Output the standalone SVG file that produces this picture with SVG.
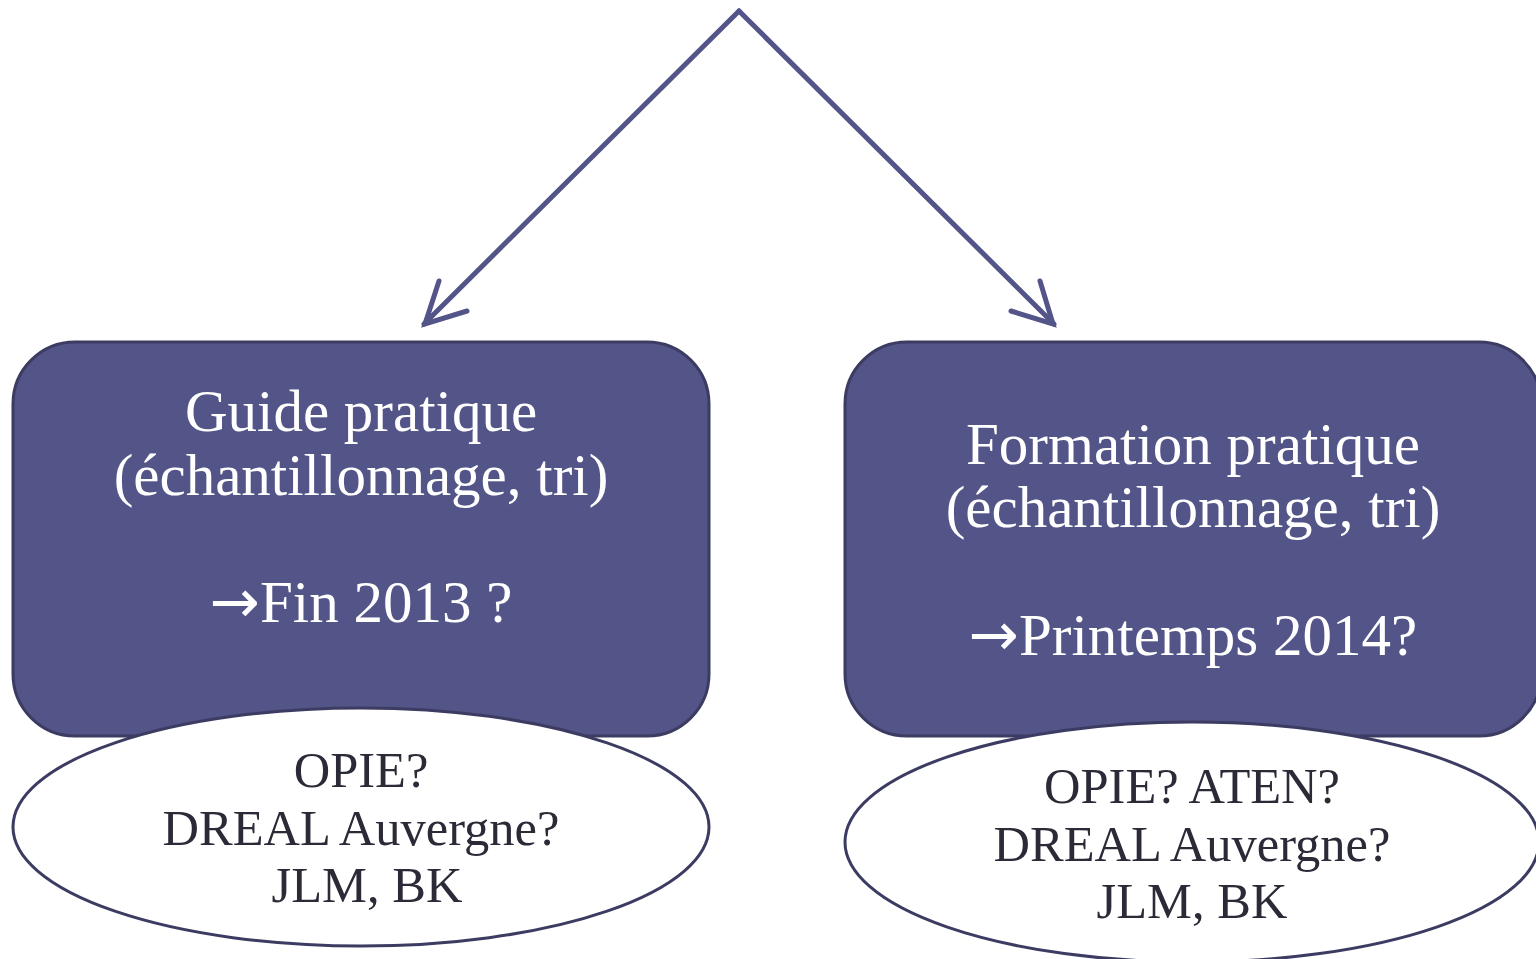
<svg xmlns="http://www.w3.org/2000/svg" width="1536" height="959" viewBox="0 0 1536 959">
<defs>
<style>
.box{fill:#535488;stroke:#3c3c63;stroke-width:3}
.ell{fill:#ffffff;stroke:#3c3c63;stroke-width:3}
.wt{font-family:"Liberation Serif","DejaVu Serif",serif;font-size:59px;fill:#ffffff;text-anchor:middle}
.dk{font-family:"Liberation Serif","DejaVu Serif",serif;font-size:50.5px;fill:#2b2b38;text-anchor:middle}
.arr{font-family:"DejaVu Sans",sans-serif;font-size:60px}
.conn{fill:none;stroke:#535488;stroke-width:5;stroke-linecap:round;stroke-linejoin:miter}
</style>
</defs>
<rect width="1536" height="959" fill="#ffffff"/>
<g id="connectors">
<path class="conn" d="M739 11 L424 324"/>
<path class="conn" d="M439 281 L425 324 L467 311"/>
<path class="conn" d="M739 11 L1054 324"/>
<path class="conn" d="M1040 281 L1053 324 L1011 311"/>
</g>
<g id="node-guide">
<rect class="box" x="13" y="342" width="696" height="394" rx="62" ry="62"/>
<text class="wt" x="361" y="431">Guide pratique</text>
<text class="wt" x="361" y="495">(échantillonnage, tri)</text>
<text class="wt" x="361" y="622"><tspan class="arr">→</tspan>Fin 2013 ?</text>
</g>
<g id="node-formation">
<rect class="box" x="845" y="342" width="696" height="394" rx="62" ry="62"/>
<text class="wt" x="1193" y="464">Formation pratique</text>
<text class="wt" x="1193" y="527">(échantillonnage, tri)</text>
<text class="wt" x="1193" y="655"><tspan class="arr">→</tspan>Printemps 2014?</text>
</g>
<g id="node-actors-left">
<ellipse class="ell" cx="361" cy="827" rx="348" ry="119"/>
<text class="dk" x="361" y="787">OPIE?</text>
<text class="dk" x="361" y="845">DREAL Auvergne?</text>
<text class="dk" x="367" y="902">JLM, BK</text>
</g>
<g id="node-actors-right">
<ellipse class="ell" cx="1192" cy="842" rx="347" ry="120"/>
<text class="dk" x="1192" y="803">OPIE? ATEN?</text>
<text class="dk" x="1192" y="861">DREAL Auvergne?</text>
<text class="dk" x="1192" y="918">JLM, BK</text>
</g>
</svg>
